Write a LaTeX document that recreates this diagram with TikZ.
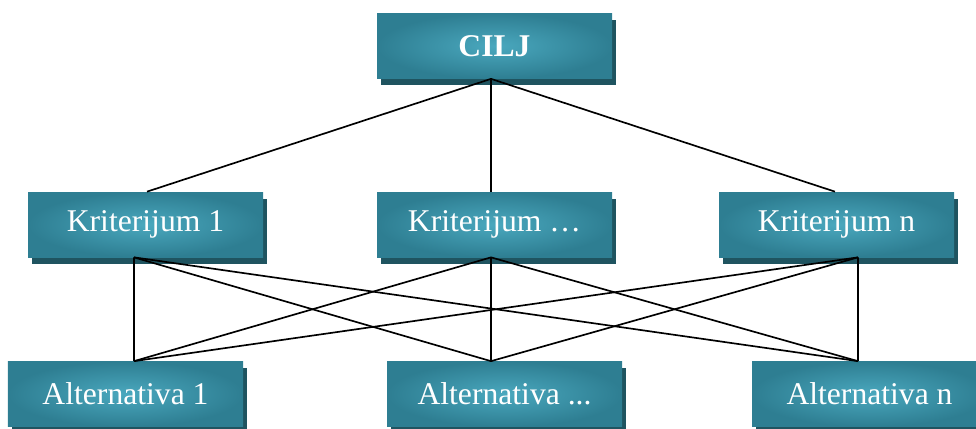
\documentclass[tikz,border=0pt]{standalone}
\usepackage{fontspec}
\setmainfont{Liberation Serif}
\usetikzlibrary{shadows,positioning}

\definecolor{tealedge}{RGB}{46,126,146}
\definecolor{tealmid}{RGB}{74,168,190}
\definecolor{tealshadow}{RGB}{31,84,96}

\begin{document}
\begin{tikzpicture}[
    box/.style={shading=radial,inner color=tealmid,outer color=tealedge,
      minimum width=4.7cm,minimum height=1.3cm,inner sep=0pt,text=white,
      font=\fontsize{18}{20}\selectfont,
      drop shadow={shadow xshift=0.08cm,shadow yshift=-0.13cm,fill=tealshadow,opacity=1}},
    link/.style={draw=black,line width=0.95pt}]
            \clip (0,0) rectangle (19.52,-8.56);

            \node[box] (cilj) at (9.89,-0.92) {\textbf{CILJ}};

            \node[box] (k1) at (2.91,-4.49) {Kriterijum 1};
            \node[box] (k2) at (9.89,-4.49) {Kriterijum \ldots};
            \node[box] (kn) at (16.73,-4.49) {Kriterijum n};

            \node[box] (a1) at (2.51,-7.88) {Alternativa 1};
            \node[box] (a2) at (10.09,-7.88) {Alternativa ...};
            \node[box] (an) at (17.39,-7.88) {Alternativa n};

            % ends of the links
            \coordinate (ciljs) at ([xshift=-0.07cm]cilj.south);
            \coordinate (k1n) at ([xshift=0.03cm]k1.north);
            \coordinate (k2n) at ([xshift=-0.07cm]k2.north);
            \coordinate (knn) at ([xshift=-0.03cm]kn.north);
            \coordinate (k1s) at ([xshift=-0.23cm]k1.south);
            \coordinate (k2s) at ([xshift=-0.07cm]k2.south);
            \coordinate (kns) at ([xshift=0.43cm]kn.south);
            \coordinate (a1n) at ([xshift=0.17cm]a1.north);
            \coordinate (a2n) at ([xshift=-0.27cm]a2.north);
            \coordinate (ann) at ([xshift=-0.23cm]an.north);

            \foreach \k in {k1n,k2n,knn}
              \draw[link] (ciljs) -- (\k);
            \foreach \k in {k1s,k2s,kns}
              \foreach \a in {a1n,a2n,ann}
                \draw[link] (\k) -- (\a);
          \end{tikzpicture}
\end{document}
